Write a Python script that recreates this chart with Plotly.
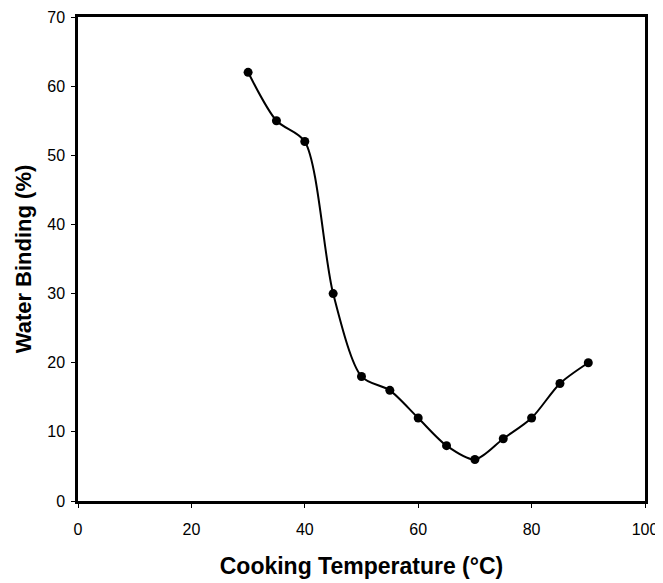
import plotly.graph_objects as go

temperature = [30, 35, 40, 45, 50, 55, 60, 65, 70, 75, 80, 85, 90]
water_binding = [62, 55, 52, 30, 18, 16, 12, 8, 6, 9, 12, 17, 20]

x_ticks = [0, 20, 40, 60, 80, 100]
y_ticks = [0, 10, 20, 30, 40, 50, 60, 70]

fig = go.Figure()
fig.add_trace(go.Scatter(
    x=temperature, y=water_binding,
    mode="lines+markers",
    line=dict(color="black", width=2, shape="spline", smoothing=0.8),
    marker=dict(color="black", size=9),
    showlegend=False,
))

axis_common = dict(
    showline=True, linecolor="black", linewidth=2.5, mirror=True,
    showgrid=False, zeroline=False,
    ticks="outside", ticklen=4, tickcolor="black", tickwidth=1,
    tickfont=dict(family="Liberation Sans, Arial", size=16, color="black"),
)

fig.update_xaxes(
    range=[0, 100], tickvals=x_ticks, ticklabelstandoff=8,
    title=dict(text="<b>Cooking Temperature (°C)</b>", standoff=21,
               font=dict(family="Liberation Sans, Arial", size=23, color="black")),
    **axis_common,
)
fig.update_yaxes(
    range=[0, 70], tickvals=y_ticks, ticklabelstandoff=3,
    title=dict(text="<b>Water Binding (%)</b>", standoff=10,
               font=dict(family="Liberation Sans, Arial", size=22, color="black")),
    **axis_common,
)

fig.update_layout(
    width=655, height=575,
    margin=dict(l=70, r=18, t=9, b=82, autoexpand=False),
    paper_bgcolor="white", plot_bgcolor="white",
)

fig.write_html("out.html")
